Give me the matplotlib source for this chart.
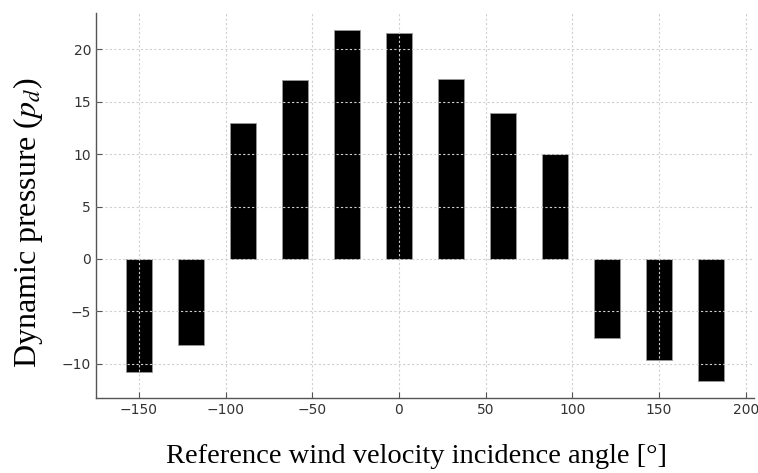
import matplotlib
matplotlib.use("Agg")
import matplotlib.pyplot as plt

# incidence angles [deg] and dynamic pressure values
angles = [-150, -120, -90, -60, -30, 0, 30, 60, 90, 120, 150, 180]
pressure = [-10.8, -8.2, 12.95, 17.05, 21.8, 21.55, 17.15, 13.9, 10.0, -7.5, -9.6, -11.6]

plt.rcParams['mathtext.fontset'] = 'stix'

fig = plt.figure(figsize=(7.58, 4.73), dpi=100)
ax = fig.add_axes([96 / 758, 75 / 473, 658 / 758, 385 / 473])

ax.bar(angles, pressure, width=15, color='black', edgecolor='#999999', linewidth=0.6)

# grid drawn on top of the bars, light dotted
ax.set_axisbelow(False)
ax.grid(True, linestyle=(0, (2, 2)), color='#d0d0d0', linewidth=0.8)

for side in ['top', 'right']:
    ax.spines[side].set_visible(False)
for side in ['left', 'bottom']:
    ax.spines[side].set_color('#555555')
    ax.spines[side].set_linewidth(1.0)

ax.tick_params(direction='in', colors='#555555', labelcolor='#333333', labelsize=10, length=4)
ax.set_xticks([-150, -100, -50, 0, 50, 100, 150, 200])
ax.set_yticks([-10, -5, 0, 5, 10, 15, 20])

ax.set_ylabel('Dynamic pressure ($p_d$)', fontfamily='Liberation Serif', fontsize=23)
ax.set_xlabel('Reference wind velocity incidence angle [°]', fontfamily='Liberation Serif', fontsize=20.5)
ax.yaxis.set_label_coords(-0.078, 0.455)
ax.xaxis.set_label_coords(0.487, -0.12)

fig.savefig('out.png', dpi=100)
